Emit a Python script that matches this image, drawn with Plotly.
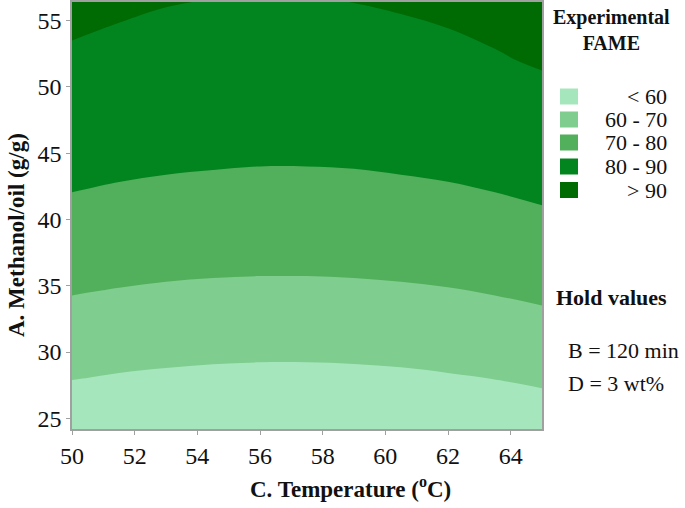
import plotly.graph_objects as go

# Grid
temperature = [50, 51.5, 53, 54.5, 56, 57.5, 59, 60.5, 62, 63.5, 65]
methanol = [24, 28, 32, 36, 40, 44, 48, 52, 56.5]
fame = [
    [53.0, 52.1, 51.5, 51.0, 50.8, 50.8, 51.0, 51.4, 52.1, 52.9, 54.1],
    [60.2, 59.3, 58.7, 58.2, 58.0, 58.0, 58.2, 58.6, 59.3, 60.1, 61.3],
    [66.7, 65.8, 65.2, 64.8, 64.5, 64.5, 64.7, 65.2, 65.8, 66.7, 67.8],
    [72.5, 71.7, 71.0, 70.6, 70.4, 70.4, 70.6, 71.0, 71.6, 72.5, 73.6],
    [77.7, 76.9, 76.2, 75.8, 75.5, 75.5, 75.7, 76.2, 76.8, 77.7, 78.8],
    [82.2, 81.3, 80.7, 80.3, 80.0, 80.0, 80.2, 80.7, 81.3, 82.2, 83.3],
    [86.0, 85.2, 84.5, 84.1, 83.8, 83.8, 84.1, 84.7, 85.4, 86.4, 87.5],
    [89.1, 88.3, 87.6, 87.2, 87.0, 87.1, 87.4, 87.9, 88.6, 89.5, 90.6],
    [91.8, 91.0, 90.3, 89.9, 89.7, 89.8, 90.1, 90.6, 91.2, 92.1, 93.2],
]
band_labels = ["< 60", "60 - 70", "70 - 80", "80 - 90", "> 90"]
band_colors = ["#a6e6bd", "#7fcd8f", "#52af5b", "#02841f", "#006a03"]
x_ticks = [50, 52, 54, 56, 58, 60, 62, 64]
y_ticks = [25, 30, 35, 40, 45, 50, 55]
hold_values = ["B = 120 min", "D = 3 wt%"]

FONT = "Liberation Serif"

cs = []
edges = [0, 0.125, 0.375, 0.625, 0.875, 1.0]
for i, c in enumerate(band_colors):
    cs.append([edges[i], c])
    cs.append([edges[i + 1], c])

fig = go.Figure()
fig.add_trace(go.Contour(
    x=temperature, y=methanol, z=fame,
    colorscale=cs, showscale=False,
    contours=dict(start=60, end=90, size=10, coloring="fill", showlines=False),
    line=dict(width=0, smoothing=1.0),
    hoverinfo="x+y+z",
))

W, H = 685, 508
L, R, T, B = 72, 143, 2, 79
pw = W - L - R
ph = H - T - B


def px(xp):
    return (xp - L) / pw


def py(yp):
    return 1 - (yp - T) / ph


shapes = []
annotations = []
# legend
sw_y = [96.5, 119.5, 142.5, 166.5, 190]
for lab, col, yc in zip(band_labels, band_colors, sw_y):
    shapes.append(dict(type="rect", xref="paper", yref="paper",
                       x0=px(560), x1=px(578), y0=py(yc + 8), y1=py(yc - 8),
                       fillcolor=col, line=dict(width=0)))
    annotations.append(dict(xref="paper", yref="paper", x=px(669), y=py(yc),
                            text=lab, showarrow=False, xanchor="right", yanchor="middle",
                            font=dict(family=FONT, size=22, color="#111")))
annotations.append(dict(xref="paper", yref="paper", x=px(611), y=py(30),
                        text="<b>Experimental</b><br><b>FAME</b>", showarrow=False,
                        xanchor="center", yanchor="middle", align="center",
                        font=dict(family=FONT, size=20, color="#111")))
annotations.append(dict(xref="paper", yref="paper", x=px(554), y=py(297),
                        text="<b>Hold values</b>", showarrow=False,
                        xanchor="left", yanchor="middle",
                        font=dict(family=FONT, size=22, color="#111")))
for txt, yc in zip(hold_values, [350, 383]):
    annotations.append(dict(xref="paper", yref="paper", x=px(566), y=py(yc),
                            text=txt, showarrow=False, xanchor="left", yanchor="middle",
                            font=dict(family=FONT, size=22, color="#111")))
# axis titles
annotations.append(dict(xref="paper", yref="paper", x=px(350), y=py(488),
                        text="<b>C. Temperature (<sup>o</sup>C)</b>", showarrow=False,
                        xanchor="center", yanchor="middle",
                        font=dict(family=FONT, size=23, color="#111")))
annotations.append(dict(xref="paper", yref="paper", x=px(16), y=py(235),
                        text="<b>A. Methanol/oil (g/g)</b>", showarrow=False,
                        textangle=-90, xanchor="center", yanchor="middle",
                        font=dict(family=FONT, size=23, color="#111")))

axis_common = dict(showgrid=False, zeroline=False, showline=True, mirror=True,
                   linecolor="#a0a0a0", linewidth=1.5, ticks="outside", ticklen=4,
                   tickcolor="#a0a0a0", automargin=False,
                   tickfont=dict(family=FONT, size=24, color="#111"))
fig.update_layout(
    width=W, height=H,
    margin=dict(l=L, r=R, t=T, b=B),
    paper_bgcolor="white", plot_bgcolor="white",
    xaxis=dict(range=[50, 65], tickvals=x_ticks, **axis_common),
    yaxis=dict(range=[24.2, 56.4], tickvals=y_ticks, **axis_common),
    shapes=shapes, annotations=annotations, showlegend=False,
)
fig.write_html("out.html", config={"displayModeBar": False},
               post_script="document.body.style.margin='0px';document.body.style.padding='0px';")
